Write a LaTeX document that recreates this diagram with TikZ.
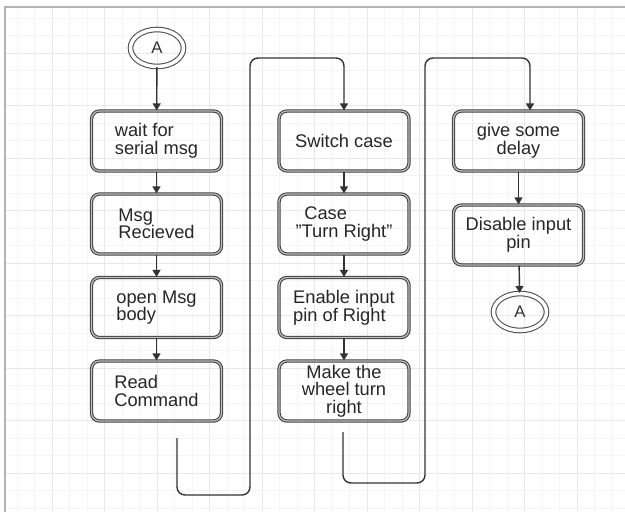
\documentclass[tikz,border=0pt]{standalone}
\usepackage{fontspec}
\setmainfont{Liberation Sans}
\usetikzlibrary{arrows.meta,shapes.geometric}
\tikzstyle{stepbox}=[rectangle, rounded corners=0.16cm, draw=black!75, double=black!25, double distance=0.7pt, line width=0.6pt, minimum width=2.6cm, minimum height=1.2cm, inner sep=2pt, text=black!85, font=\fontsize{10.4}{10}\selectfont]
\tikzstyle{connector}=[ellipse, draw=black!70, double=white, double distance=2pt, line width=0.6pt, minimum width=1.06cm, minimum height=0.74cm, inner sep=0pt, text=black!80, font=\fontsize{9.5}{9.5}\selectfont]
\tikzstyle{flow}=[draw=black!80, line width=0.8pt, rounded corners=0.16cm, -{Triangle[length=4pt,width=4.5pt]}]
\tikzstyle{gridminor}=[draw=black!4, line width=0.4pt]
\tikzstyle{gridmajor}=[draw=black!9, line width=0.5pt]

\begin{document}
\begin{tikzpicture}
	\useasboundingbox (0,0) rectangle (12.5,-10.24);
	\begin{scope}
		% background grid
		\foreach \i in {0,...,34} {
			\draw[gridminor] (0.34+0.35*\i,-0.14) -- (0.34+0.35*\i,-10.24);
		}
		\foreach \i in {0,...,28} {
			\draw[gridminor] (0.1,-0.36-0.35*\i) -- (12.5,-0.36-0.35*\i);
		}
		\foreach \i in {0,...,11} {
			\draw[gridmajor] (1.04+1.05*\i,-0.14) -- (1.04+1.05*\i,-10.24);
		}
		\foreach \i in {0,...,8} {
			\draw[gridmajor] (0.1,-1.06-1.05*\i) -- (12.5,-1.06-1.05*\i);
		}
		\draw[draw=black!30, line width=1.4pt] (0.1,-10.24) -- (0.1,-0.14) -- (12.5,-0.14);
	\end{scope}
	\begin{scope}
		\node (A1) at (3.14,-0.96)[connector] {A};
		\node (wait) at (3.13,-2.82)[stepbox, align=left] {wait for\\serial msg};
		\node (recv) at (3.13,-4.48)[stepbox, align=left] {Msg\\Recieved};
		\node (open) at (3.13,-6.15)[stepbox, align=left] {open Msg\\body};
		\node (read) at (3.13,-7.82)[stepbox, align=left] {Read\\Command};
		\coordinate (r1) at (3.54,-8.76);

		\node (switch) at (6.88,-2.82)[stepbox, align=center] {Switch case};
		\node (case) at (6.88,-4.48)[stepbox, align=left] {\hspace*{5pt}Case\\\symbol{34}Turn Right\symbol{34}};
		\node (enable) at (6.88,-6.15)[stepbox, align=left] {Enable input\\pin of Right};
		\node (wheel) at (6.88,-7.82)[stepbox, align=center] {Make the\\wheel turn\\right};
		\coordinate (r2) at (6.86,-8.64);

		\node (delay) at (10.37,-2.82)[stepbox, align=center] {give some\\delay};
		\node (disable) at (10.37,-4.70)[stepbox, align=center] {Disable input\\pin};
		\node (A2) at (10.4,-6.24)[connector] {A};
	\end{scope}
	\begin{scope}
		\path [flow] (A1) -- (wait);
		\path [flow] (wait) -- (recv);
		\path [flow] (recv) -- (open);
		\path [flow] (open) -- (read);
		\path [flow] (r1) |- (5.0,-9.9) -- (5.0,-1.16) -| (switch.north);
		\path [flow] (switch) -- (case);
		\path [flow] (case) -- (enable);
		\path [flow] (enable) -- (wheel);
		\path [flow] (r2) |- (8.5,-9.66) -- (8.5,-1.16) -| ([xshift=0.23cm]delay.north);
		\path [flow] (delay) -- (disable);
		\path [flow] (disable) -- (A2);
	\end{scope}
\end{tikzpicture}
\end{document}
